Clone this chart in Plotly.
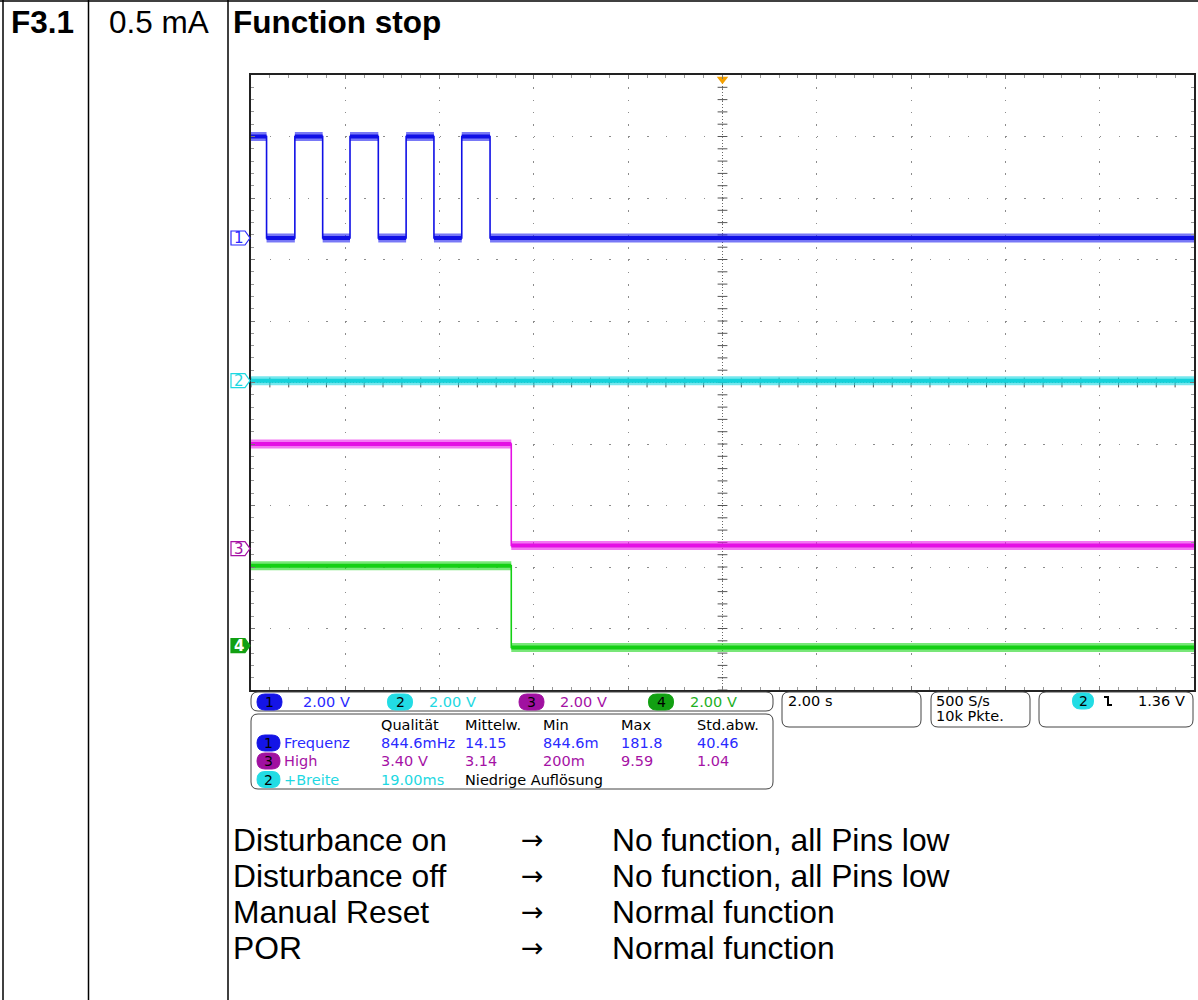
import numpy as np
import plotly.graph_objects as go

# ---------------- data ----------------
time_window_s = [-10.0, 10.0]          # 2.00 s/div, 10 divisions, trigger at centre
div_window = [-5.0, 5.0]

ch1_edges_s = [-10.0, -9.67, -9.07, -8.48, -7.90, -7.30, -6.71, -6.12, -5.53, -4.93, 10.0]
ch1_levels_v = [3.30, 0.00, 3.30, 0.00, 3.30, 0.00, 3.30, 0.00, 3.30, 0.00]
ch2_edges_s = [-10.0, 10.0]
ch2_levels_v = [0.00]
ch3_edges_s = [-10.0, -4.48, 10.0]
ch3_levels_v = [3.40, 0.10]
ch4_edges_s = [-10.0, -4.48, 10.0]
ch4_levels_v = [2.60, -0.06]

channel_names = ["1", "2", "3", "4"]
channel_offset_div = [2.35, 0.03, -2.70, -4.28]
channel_scale_v = [2.00, 2.00, 2.00, 2.00]
channel_scale_labels = ["2.00 V", "2.00 V", "2.00 V", "2.00 V"]

meas_header = ["Qualität", "Mittelw.", "Min", "Max", "Std.abw."]
meas_channel = [1, 3, 2]
meas_name = ["Frequenz", "High", "+Breite"]
meas_rows = [["844.6mHz", "14.15", "844.6m", "181.8", "40.46"],
             ["3.40 V", "3.14", "200m", "9.59", "1.04"],
             ["19.00ms"]]
meas_note = "Niedrige Auflösung"
timebase_label = "2.00 s"
acq_labels = ["500 S/s", "10k Pkte."]
trigger_channel = 2
trigger_level_label = "1.36 V"

header_cells = ["F3.1", "0.5 mA", "Function stop"]
result_actions = ["Disturbance on", "Disturbance off", "Manual Reset", "POR"]
result_outcomes = ["No function, all Pins low", "No function, all Pins low",
                   "Normal function", "Normal function"]

# ---------------- styling / geometry ----------------
W, H = 1198, 1000
PX0, PX1, PY0, PY1 = 251, 1194, 75, 690   # scope screen in page pixels


def X(p):
    return p / W


def Y(p):
    return 1 - p / H


trace_col = ["#1010e6", "#14d2da", "#e410e4", "#14d014"]
band_col = ["rgba(30,30,240,0.6)", "rgba(25,215,225,0.6)",
            "rgba(235,30,235,0.6)", "rgba(30,215,30,0.6)"]
text_col = ["#2a2aff", "#1ed8e2", "#a512a5", "#1fb01f"]
pill_col = ["#1414e6", "#22dce4", "#a010a0", "#12a012"]
SCOPE_FONT = "DejaVu Sans"
DOC_FONT = "Liberation Sans"
SF = 14.5

fig = go.Figure()

# centre graticule cross ticks (decoration)
ys = np.arange(-5.0, 5.0001, 0.2)
xs = np.arange(-10.0, 10.0001, 0.4)
fig.add_trace(go.Scatter(x=np.zeros_like(ys), y=ys, mode="markers",
                         marker=dict(symbol="line-ew", size=7, line=dict(width=1, color="#555")),
                         hoverinfo="skip", showlegend=False))
fig.add_trace(go.Scatter(x=xs, y=np.zeros_like(xs), mode="markers",
                         marker=dict(symbol="line-ns", size=7, line=dict(width=1, color="#555")),
                         hoverinfo="skip", showlegend=False))

channels = [(ch1_edges_s, ch1_levels_v), (ch2_edges_s, ch2_levels_v),
            (ch3_edges_s, ch3_levels_v), (ch4_edges_s, ch4_levels_v)]

for i, (edges, levels) in enumerate(channels):
    off = channel_offset_div[i]
    sc = channel_scale_v[i]
    lv_div = [off + v / sc for v in levels]
    # noise band on the flat segments
    bx, by = [], []
    for k, lv in enumerate(lv_div):
        bx += [edges[k], edges[k + 1], None]
        by += [lv, lv, None]
    fig.add_trace(go.Scatter(x=bx, y=by, mode="lines",
                             line=dict(color=band_col[i], width=9),
                             hoverinfo="skip", showlegend=False))
    fig.add_trace(go.Scatter(x=bx, y=by, mode="lines",
                             line=dict(color=trace_col[i], width=4),
                             hoverinfo="skip", showlegend=False))
    # step trace (edges)
    fig.add_trace(go.Scatter(x=edges, y=lv_div + [lv_div[-1]], mode="lines",
                             line=dict(color=trace_col[i], width=1.6, shape="hv"),
                             hoverinfo="skip", showlegend=False))

# trigger position marker
fig.add_trace(go.Scatter(x=[0], y=[4.93], mode="markers",
                         marker=dict(symbol="triangle-down", size=10, color="#f4a000"),
                         cliponaxis=False, hoverinfo="skip", showlegend=False))

shapes = []
ann = []

# centre lines (dense dotted)
shapes.append(dict(type="line", xref="x", yref="y", x0=0, x1=0, y0=-5, y1=5,
                   line=dict(color="#666", width=1, dash="1px,2px"), layer="below"))
shapes.append(dict(type="line", xref="x", yref="y", x0=-10, x1=10, y0=0, y1=0,
                   line=dict(color="#666", width=1, dash="1px,2px"), layer="below"))

# document table lines
for xv in [3, 88.5, 228]:
    shapes.append(dict(type="line", xref="paper", yref="paper", x0=X(xv), x1=X(xv), y0=0, y1=1,
                       line=dict(color="black", width=1.5)))
shapes.append(dict(type="line", xref="paper", yref="paper", x0=0, x1=1, y0=Y(1), y1=Y(1),
                   line=dict(color="black", width=1.5)))


def rrect(x0, y0, x1, y1, r, fill="rgba(0,0,0,0)", line="#444", lw=1):
    p = (f"M {X(x0 + r)},{Y(y0)} L {X(x1 - r)},{Y(y0)} Q {X(x1)},{Y(y0)} {X(x1)},{Y(y0 + r)} "
         f"L {X(x1)},{Y(y1 - r)} Q {X(x1)},{Y(y1)} {X(x1 - r)},{Y(y1)} "
         f"L {X(x0 + r)},{Y(y1)} Q {X(x0)},{Y(y1)} {X(x0)},{Y(y1 - r)} "
         f"L {X(x0)},{Y(y0 + r)} Q {X(x0)},{Y(y0)} {X(x0 + r)},{Y(y0)} Z")
    return dict(type="path", xref="paper", yref="paper", path=p, fillcolor=fill,
                line=dict(color=line, width=lw))


def txt(x, y, s, size=SF, color="black", family=SCOPE_FONT, anchor="left", bold=False):
    if bold:
        s = f"<b>{s}</b>"
    ann.append(dict(xref="paper", yref="paper", x=X(x), y=Y(y), text=s, showarrow=False,
                    xanchor=anchor, yanchor="middle",
                    font=dict(family=family, size=size, color=color)))


def pill(xc, yc, ch, w=25, h=16):
    shapes.append(rrect(xc - w / 2, yc - h / 2, xc + w / 2, yc + h / 2, h / 2,
                        fill=pill_col[ch - 1], line=pill_col[ch - 1]))
    txt(xc, yc, str(ch), 14, "black", anchor="center")


# scope readout boxes
shapes.append(rrect(251, 692, 773, 711, 7))
shapes.append(rrect(251, 714, 773, 789, 7))
shapes.append(rrect(782, 692, 921, 727, 7))
shapes.append(rrect(931, 692, 1030, 727, 7))
shapes.append(rrect(1039, 692, 1193, 727, 7))

# channel scale row
scale_pill_x = [269.5, 400, 531.5, 661]
scale_txt_x = [301, 427, 558, 688]
for i in range(4):
    pill(scale_pill_x[i], 702, i + 1)
    txt(scale_txt_x[i], 702, channel_scale_labels[i], SF, text_col[i])

# measurement table
col_x = [379, 462.5, 541, 618.5, 694.5]
for cx, h in zip(col_x, meas_header):
    txt(cx, 724.5, h, SF, "black")
row_y = [743, 761, 779.5]
for r in range(3):
    ch = meas_channel[r]
    pill(268.5, row_y[r], ch, w=23)
    txt(282, row_y[r], meas_name[r], SF, text_col[ch - 1])
    for cx, v in zip(col_x, meas_rows[r]):
        txt(cx, row_y[r], v, SF, text_col[ch - 1])
txt(col_x[1], row_y[2], meas_note, SF, "black")

# timebase / acquisition / trigger
txt(786, 701, timebase_label, SF, "black")
txt(934, 701, acq_labels[0], SF, "black")
txt(934, 716, acq_labels[1], SF, "black")
pill(1083, 701, trigger_channel, w=21)
shapes.append(dict(type="path", xref="paper", yref="paper",
                   path=f"M {X(1104)},{Y(697)} L {X(1108)},{Y(697)} L {X(1108)},{Y(705)} L {X(1112)},{Y(705)}",
                   line=dict(color="black", width=2)))
txt(1187, 701, trigger_level_label, SF, "black", anchor="right")

# channel ground tags at the left of the screen
for i in range(4):
    off = channel_offset_div[i]
    hh = 7 / 61.5
    p = (f"M {X(231)},{off + hh} L {X(245)},{off + hh} L {X(250)},{off} "
         f"L {X(245)},{off - hh} L {X(231)},{off - hh} Z")
    filled = (i == 3)
    shapes.append(dict(type="path", xref="paper", yref="y", path=p,
                       fillcolor=pill_col[i] if filled else "white",
                       line=dict(color=pill_col[i] if filled else text_col[i], width=1.2)))
    ann.append(dict(xref="paper", yref="y", x=X(238.5), y=off,
                    text=f"<b>{channel_names[i]}</b>" if filled else channel_names[i],
                    showarrow=False, xanchor="center", yanchor="middle",
                    font=dict(family=SCOPE_FONT, size=15, color="white" if filled else text_col[i])))

# document texts
txt(9, 22, header_cells[0], 31.5, "black", DOC_FONT, bold=True)
txt(107, 22, header_cells[1], 31.5, "black", DOC_FONT)
txt(231, 22, header_cells[2], 31.5, "black", DOC_FONT, bold=True)
line_y = [840, 876, 912, 948]
for k in range(4):
    txt(231, line_y[k], result_actions[k], 31.8, "black", DOC_FONT)
    txt(532, line_y[k] - 1, "→", 27, "black", "DejaVu Sans", anchor="center")
    txt(610, line_y[k], result_outcomes[k], 31.8, "black", DOC_FONT)

axis_common = dict(showgrid=True, gridcolor="#8c8c8c", gridwidth=1.2, zeroline=False,
                   showline=True, mirror="allticks", linecolor="#222", linewidth=1.5,
                   ticks="inside", ticklen=4, tickcolor="#777", tickwidth=1,
                   showticklabels=False, fixedrange=True)

fig.update_layout(
    width=W, height=H, margin=dict(l=0, r=0, t=0, b=0),
    paper_bgcolor="white", plot_bgcolor="white", showlegend=False,
    xaxis=dict(domain=[X(PX0), X(PX1)], range=time_window_s, dtick=2, tick0=-10,
               griddash="1.5px,10.8px",
               minor=dict(dtick=0.4, tick0=-10, ticks="inside", ticklen=3, tickcolor="#999", showgrid=False),
               **axis_common),
    yaxis=dict(domain=[Y(PY1), Y(PY0)], range=div_window, dtick=1, tick0=-5,
               griddash="1.5px,17.36px",
               minor=dict(dtick=0.2, tick0=-5, ticks="inside", ticklen=3, tickcolor="#999", showgrid=False),
               **axis_common),
    shapes=shapes, annotations=ann,
)

fig.write_html("out.html")
